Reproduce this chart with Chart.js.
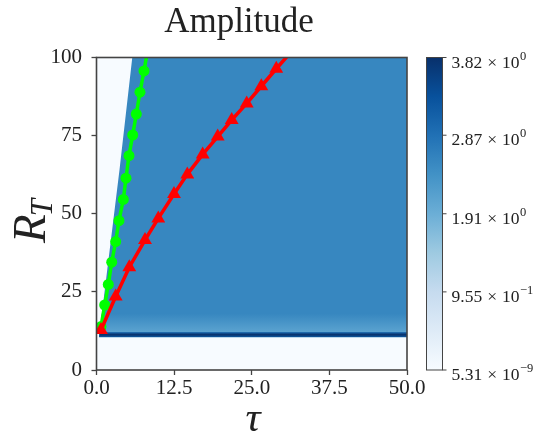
<!DOCTYPE html>
<html>
<head>
<meta charset="utf-8">
<script src="https://cdn.jsdelivr.net/npm/chart.js@4.4.1/dist/chart.umd.min.js"></script>
<style>
  html, body { margin: 0; padding: 0; background: #fff; }
  canvas { display: block; }
</style>
</head>
<body>
<canvas id="chart1" width="549" height="436"></canvas>
<script>
"use strict"

// axis ticks
const tauTicks = [0, 12.5, 25, 37.5, 50]
const rtTicks = [0, 25, 50, 75, 100]

// colour bar ticks (value, mantissa, exponent)
const cbTicks = [5.31e-9, 0.955, 1.91, 2.87, 3.82]
const cbMantissa = ['5.31', '9.55', '1.91', '2.87', '3.82']
const cbExponent = ['-9', '-1', '0', '0', '0']
const cbMax = 3.82

// green curve, circle markers
const greenTau = [0.72, 1.32, 1.90, 2.45, 3.09, 3.62, 4.32, 4.75, 5.23, 5.83, 6.41, 7.00, 7.65, 8.25]
const greenRt = [13.9, 20.8, 27.4, 34.5, 41.1, 47.8, 54.6, 61.4, 68.6, 75.2, 81.9, 88.9, 95.7, 102.5]

// red curve, triangle markers
const redTau = [0.72, 3.09, 5.28, 7.81, 9.95, 12.48, 14.62, 17.10, 19.52, 21.77, 24.19, 26.54, 28.95, 31.35]
const redRt = [12.8, 23.5, 32.9, 41.6, 48.5, 56.3, 62.6, 69.0, 74.7, 80.0, 85.3, 90.8, 96.4, 101.8]

// amplitude field: left edge of the non-zero region, thin strong band, fade above it
const edgeTau = [0.4, 3.7, 5.76]
const edgeRt = [10.5, 64, 100]
const bandRt = [10.5, 11.3, 12.1]
const bandLevel = [3.2, 3.82, 3.0]
const fadeRt = [12.1, 18]
const fadeLevel = [2.1, 2.55]
const plateauLevel = 2.55

// matplotlib "Blues"
const bluesStops = [[247,251,255],[222,235,247],[198,219,239],[158,202,225],[107,174,214],[66,146,198],[33,113,181],[8,81,156],[8,48,107]]
function blues(v) {
    let t = Math.min(Math.max(v / cbMax, 0), 1) * 8
    let i = Math.min(Math.floor(t), 7)
    let f = t - i
    let a = bluesStops[i], b = bluesStops[i + 1]
    let c = a.map((ch, k) => Math.round(ch + (b[k] - ch) * f))
    return `rgb(${c[0]},${c[1]},${c[2]})`
}

const serif = '"Liberation Serif", "Times New Roman", serif'
const inkColor = '#222'
const spineColor = '#444'

function drawField(chart) {
    const {ctx, chartArea: area} = chart
    const xs = chart.scales.x, ys = chart.scales.y
    ctx.save()
    ctx.beginPath()
    ctx.rect(area.left, area.top, area.right - area.left, area.bottom - area.top)
    ctx.clip()
    ctx.fillStyle = blues(0)
    ctx.fillRect(area.left, area.top, area.right - area.left, area.bottom - area.top)

    // non-zero region
    ctx.beginPath()
    for (let i = 0; i < edgeTau.length; i++) {
        let px = xs.getPixelForValue(edgeTau[i]), py = ys.getPixelForValue(edgeRt[i])
        if (i === 0) ctx.moveTo(px, py); else ctx.lineTo(px, py)
    }
    ctx.lineTo(xs.getPixelForValue(50), ys.getPixelForValue(100))
    ctx.lineTo(xs.getPixelForValue(50), ys.getPixelForValue(bandRt[0]))
    ctx.closePath()
    ctx.fillStyle = blues(plateauLevel)
    ctx.fill()
    ctx.clip()

    // lighter fade just above the band
    let f0 = ys.getPixelForValue(fadeRt[0]), f1 = ys.getPixelForValue(fadeRt[1])
    let g = ctx.createLinearGradient(0, f0, 0, f1)
    g.addColorStop(0, blues(fadeLevel[0]))
    g.addColorStop(1, blues(fadeLevel[1]))
    ctx.fillStyle = g
    ctx.fillRect(area.left, f1, area.right - area.left, f0 - f1)

    // strong band
    let b0 = ys.getPixelForValue(bandRt[0]), b1 = ys.getPixelForValue(bandRt[bandRt.length - 1])
    let bg = ctx.createLinearGradient(0, b0, 0, b1)
    bandRt.forEach((r, i) => bg.addColorStop((ys.getPixelForValue(r) - b0) / (b1 - b0), blues(bandLevel[i])))
    ctx.fillStyle = bg
    ctx.fillRect(area.left, b1, area.right - area.left, b0 - b1)
    ctx.restore()
}

function drawColorbar(chart) {
    const ctx = chart.ctx
    const cb = chart.scales.cb
    const left = 426.5, right = 442.5
    let top = cb.getPixelForValue(cbMax), bottom = cb.getPixelForValue(0)
    let g = ctx.createLinearGradient(0, bottom, 0, top)
    bluesStops.forEach((c, i) => g.addColorStop(i / 8, `rgb(${c[0]},${c[1]},${c[2]})`))
    ctx.fillStyle = g
    ctx.fillRect(left, top, right - left, bottom - top)
    ctx.strokeStyle = spineColor
    ctx.lineWidth = 1
    ctx.strokeRect(left, top, right - left, bottom - top)

    ctx.fillStyle = inkColor
    ctx.textAlign = 'left'
    ctx.textBaseline = 'alphabetic'
    for (let i = 0; i < cbTicks.length; i++) {
        let py = cb.getPixelForValue(cbTicks[i])
        ctx.beginPath()
        ctx.moveTo(right, py)
        ctx.lineTo(right + 4, py)
        ctx.stroke()
        // mantissa, times sign, power of ten, exponent
        let x = 451.5, base = py + 10
        ctx.font = '17.5px ' + serif
        ctx.fillText(cbMantissa[i], x, base)
        x += ctx.measureText(cbMantissa[i]).width + 5
        ctx.fillText('\u00d7', x, base)
        x += ctx.measureText('\u00d7').width + 5
        ctx.fillText('10', x, base)
        x += ctx.measureText('10').width + 0.5
        ctx.font = '12.5px ' + serif
        ctx.fillText(cbExponent[i].replace('-', '\u2212'), x, base - 8)
    }
}

const extras = {
    id: 'extras',
    beforeDatasetsDraw(chart) {
        drawField(chart)
    },
    afterDraw(chart) {
        const {ctx, chartArea: area} = chart
        ctx.save()
        // frame
        ctx.strokeStyle = spineColor
        ctx.lineWidth = 1.6
        ctx.strokeRect(area.left, area.top, area.right - area.left, area.bottom - area.top)

        // title
        ctx.fillStyle = inkColor
        ctx.font = '35px ' + serif
        ctx.textAlign = 'center'
        ctx.textBaseline = 'alphabetic'
        ctx.fillText('Amplitude', 239, 32)

        // x label
        ctx.font = 'italic 42px ' + serif
        ctx.fillText('\u03c4', 253, 431)

        // y label R_T
        ctx.save()
        ctx.translate(45, 220)
        ctx.rotate(-Math.PI / 2)
        ctx.textAlign = 'left'
        ctx.font = 'italic 47px ' + serif
        let wR = ctx.measureText('R').width
        ctx.font = 'italic 31px ' + serif
        let wT = ctx.measureText('T').width
        let start = -(wR + wT) / 2
        ctx.font = 'italic 47px ' + serif
        ctx.fillText('R', start, 0)
        ctx.font = 'italic 31px ' + serif
        ctx.fillText('T', start + wR - 2, 7)
        ctx.restore()

        drawColorbar(chart)
        ctx.restore()
    }
}

const tickFont = {family: serif, size: 21}

new Chart(document.getElementById('chart1'), {
    type: 'scatter',
    data: {
        datasets: [{
            data: redTau.map((t, i) => ({x: t, y: redRt[i]})),
            showLine: true,
            borderColor: '#ff0000',
            backgroundColor: '#ff0000',
            borderWidth: 3.5,
            pointStyle: 'triangle',
            pointRadius: 8,
            pointBorderWidth: 0
        }, {
            data: greenTau.map((t, i) => ({x: t, y: greenRt[i]})),
            showLine: true,
            borderColor: '#00ff00',
            backgroundColor: '#00ff00',
            borderWidth: 3.5,
            pointStyle: 'circle',
            pointRadius: 5.5,
            pointBorderWidth: 0
        }]
    },
    options: {
        responsive: false,
        animation: false,
        events: [],
        layout: {padding: {left: 0, right: 142, top: 57.5, bottom: 0}},
        plugins: {legend: {display: false}, tooltip: {enabled: false}},
        scales: {
            x: {
                type: 'linear',
                position: 'bottom',
                min: 0,
                max: 50,
                afterFit: s => { s.height = 66 },
                afterBuildTicks: s => { s.ticks = tauTicks.map(v => ({value: v})) },
                ticks: {font: tickFont, color: inkColor, padding: 1, maxRotation: 0, callback: v => v.toFixed(1)},
                grid: {drawOnChartArea: false, tickLength: 5, tickColor: spineColor, tickWidth: 1.3},
                border: {display: false}
            },
            y: {
                type: 'linear',
                position: 'left',
                min: 0,
                max: 100,
                afterFit: s => { s.width = 96.5 },
                afterBuildTicks: s => { s.ticks = rtTicks.map(v => ({value: v})) },
                ticks: {font: tickFont, color: inkColor, padding: 9.5},
                grid: {drawOnChartArea: false, tickLength: 5, tickColor: spineColor, tickWidth: 1.3},
                border: {display: false}
            },
            cb: {
                type: 'linear',
                position: 'right',
                display: false,
                min: 0,
                max: cbMax
            }
        }
    },
    plugins: [extras]
})
</script>
</body>
</html>
